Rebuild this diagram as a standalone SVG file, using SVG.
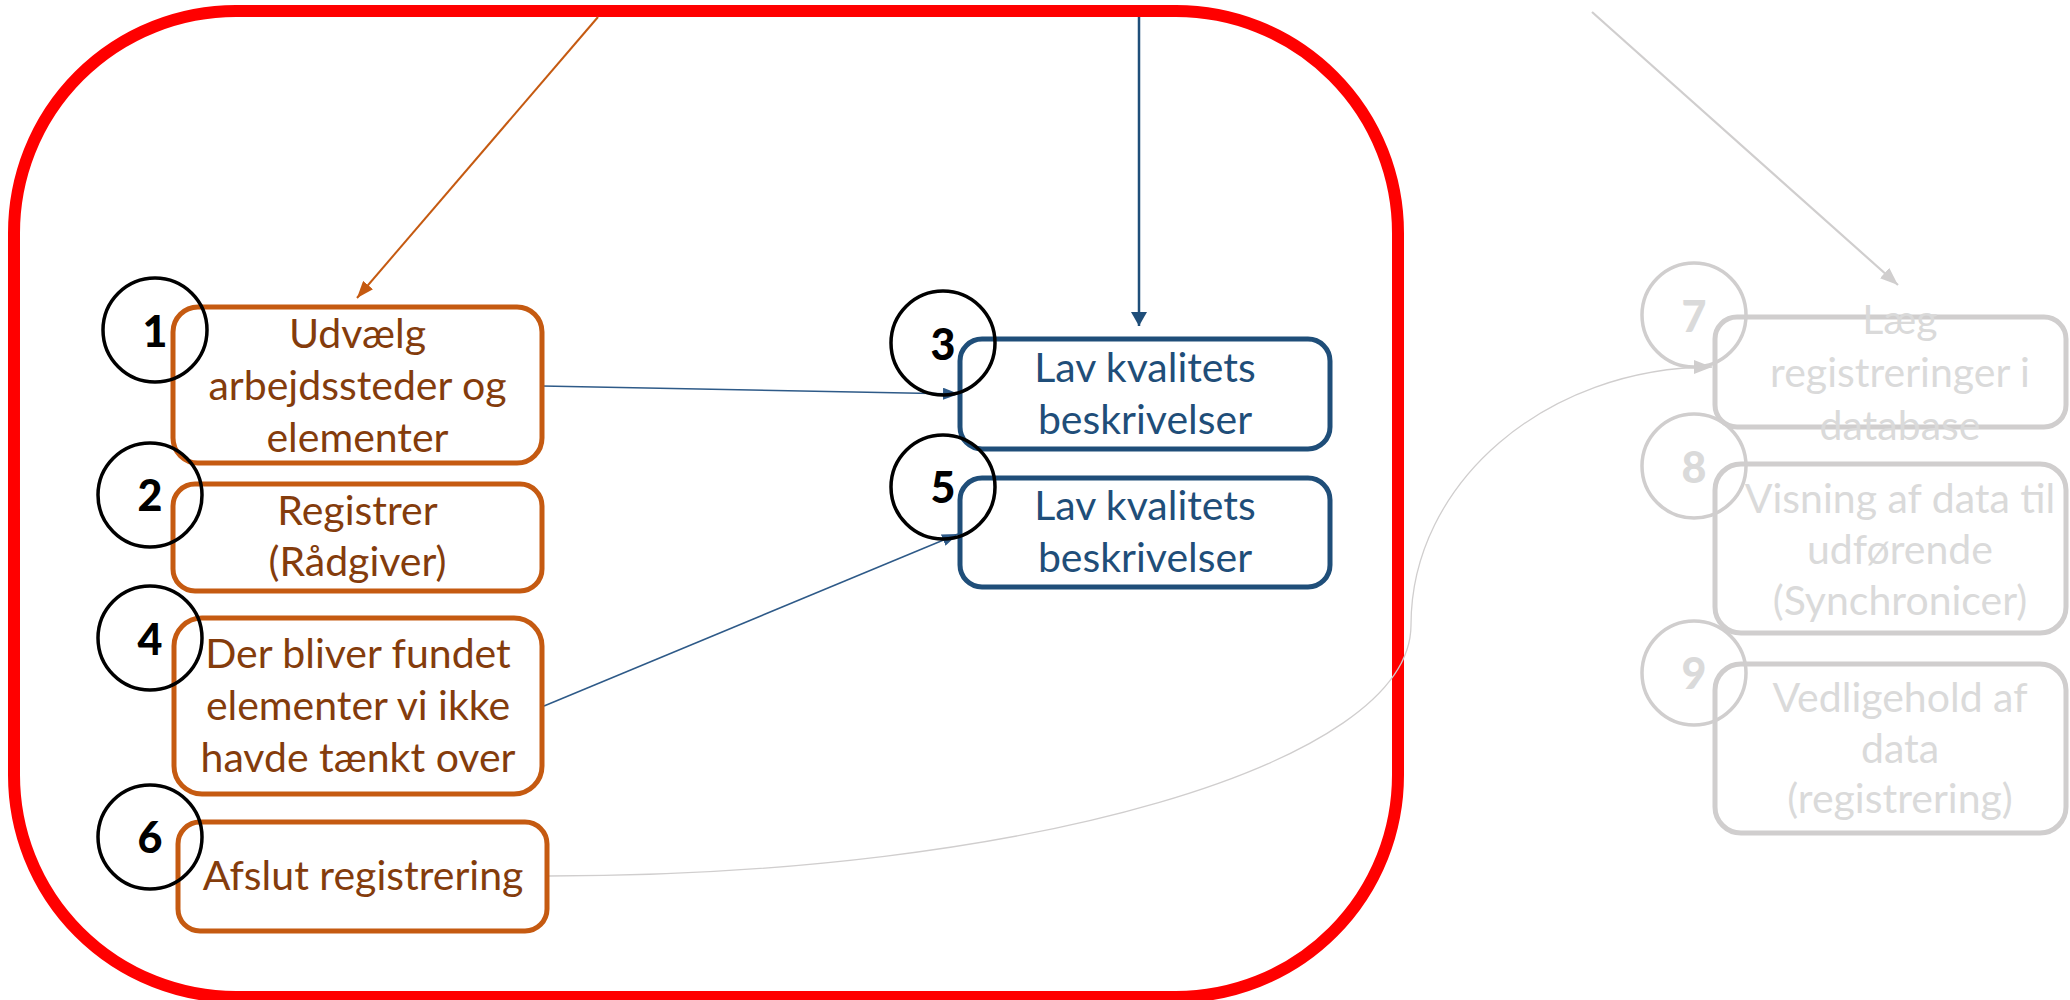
<svg xmlns="http://www.w3.org/2000/svg" width="2070" height="1000" viewBox="0 0 2070 1000">
  <style>
    .t { font-family: Lato, "Open Sans", "Liberation Sans", sans-serif; font-size: 41px; text-anchor: middle; }
    .num { font-family: Lato, "Liberation Sans", sans-serif; font-size: 43px; font-weight: 900; text-anchor: middle; }
    .or { fill: #fff; stroke: #C55A11; stroke-width: 5; }
    .bl { fill: #fff; stroke: #1F4E79; stroke-width: 5; }
    .gr { fill: #fff; stroke: #D0CECE; stroke-width: 5; }
    .ort { fill: #843C0C; }
    .blt { fill: #1F4E79; }
    .grt { fill: #DADADA; }
    .c { fill: none; stroke: #000; stroke-width: 3.5; }
    .cg { fill: none; stroke: #D0CECE; stroke-width: 3.5; }
  </style>
  <defs>
    <marker id="aOr" markerUnits="userSpaceOnUse" markerWidth="18" markerHeight="13" refX="17" refY="6.5" orient="auto" viewBox="0 0 18 13">
      <path d="M0,0 L17,6.5 L0,13 Z" fill="#C55A11"/>
    </marker>
    <marker id="aBl" markerUnits="userSpaceOnUse" markerWidth="15" markerHeight="16" refX="14" refY="8" orient="auto" viewBox="0 0 15 16">
      <path d="M0,0 L14,8 L0,16 Z" fill="#1F4E79"/>
    </marker>
    <marker id="aBl2" markerUnits="userSpaceOnUse" markerWidth="17" markerHeight="12" refX="16" refY="6" orient="auto" viewBox="0 0 17 12">
      <path d="M0,0 L16,6 L0,12 Z" fill="#2E5A88"/>
    </marker>
    <marker id="aGr" markerUnits="userSpaceOnUse" markerWidth="19" markerHeight="14" refX="18" refY="7" orient="auto" viewBox="0 0 19 14">
      <path d="M0,0 L18,7 L0,14 Z" fill="#D0CECE"/>
    </marker>
  </defs>

  <rect id="frame" x="14" y="11" width="1384" height="986" rx="222" ry="222" fill="none" stroke="#FF0000" stroke-width="12"/>

  <g id="connectors" fill="none">
    <line x1="598" y1="17" x2="357" y2="298" stroke="#C55A11" stroke-width="2" marker-end="url(#aOr)"/>
    <line x1="1139" y1="17" x2="1139" y2="326" stroke="#1F4E79" stroke-width="2.5" marker-end="url(#aBl)"/>
    <line x1="542" y1="386" x2="959" y2="394" stroke="#2E5A88" stroke-width="1.5" marker-end="url(#aBl2)"/>
    <line x1="544" y1="706" x2="958" y2="534" stroke="#2E5A88" stroke-width="1.5" marker-end="url(#aBl2)"/>
    <line x1="1592" y1="12" x2="1898" y2="285" stroke="#D0CECE" stroke-width="2.2" marker-end="url(#aGr)"/>
    <path d="M549,876 C1025,876 1411,764 1411,625 C1411,483 1546,367 1712,367" stroke="#D0CECE" stroke-width="1.3" marker-end="url(#aGr)"/>
  </g>

  <g id="node1">
    <rect class="or" x="173" y="307" width="369" height="156" rx="25"/>
    <text class="t ort" x="357.5" y="348">Udvælg</text>
    <text class="t ort" x="357.5" y="400">arbejdssteder og</text>
    <text class="t ort" x="357.5" y="452">elementer</text>
    <circle class="c" cx="155" cy="330" r="52"/>
    <text class="num" x="155" y="347">1</text>
  </g>
  <g id="node2">
    <rect class="or" x="173" y="484" width="369" height="107" rx="22"/>
    <text class="t ort" x="357.5" y="525">Registrer</text>
    <text class="t ort" x="357.5" y="576">(Rådgiver)</text>
    <circle class="c" cx="150" cy="495" r="52"/>
    <text class="num" x="150" y="511">2</text>
  </g>
  <g id="node3">
    <rect class="bl" x="960" y="339" width="370" height="110" rx="22"/>
    <text class="t blt" x="1145" y="382">Lav kvalitets</text>
    <text class="t blt" x="1145" y="434">beskrivelser</text>
    <circle class="c" cx="943" cy="343" r="52"/>
    <text class="num" x="943" y="360">3</text>
  </g>
  <g id="node4">
    <rect class="or" x="174" y="618" width="368" height="176" rx="28"/>
    <text class="t ort" x="358" y="668">Der bliver fundet</text>
    <text class="t ort" x="358" y="720">elementer vi ikke</text>
    <text class="t ort" x="358" y="772">havde tænkt over</text>
    <circle class="c" cx="150" cy="638" r="52"/>
    <text class="num" x="150" y="655">4</text>
  </g>
  <g id="node5">
    <rect class="bl" x="960" y="478" width="370" height="109" rx="22"/>
    <text class="t blt" x="1145" y="520">Lav kvalitets</text>
    <text class="t blt" x="1145" y="572">beskrivelser</text>
    <circle class="c" cx="943" cy="487" r="52"/>
    <text class="num" x="943" y="503">5</text>
  </g>
  <g id="node6">
    <rect class="or" x="178" y="822" width="369" height="109" rx="22"/>
    <text class="t ort" x="363" y="890">Afslut registrering</text>
    <circle class="c" cx="150" cy="837" r="52"/>
    <text class="num" x="150" y="853">6</text>
  </g>
  <g id="node7">
    <rect class="gr" x="1715" y="317" width="351" height="110" rx="22"/>
    <text class="t grt" x="1900" y="334">Læg</text>
    <text class="t grt" x="1900" y="387">registreringer i</text>
    <text class="t grt" x="1900" y="440">database</text>
    <circle class="cg" cx="1694" cy="315" r="52"/>
    <text class="num grt" x="1694" y="332">7</text>
  </g>
  <g id="node8">
    <rect class="gr" x="1715" y="464" width="351" height="169" rx="26"/>
    <text class="t grt" x="1900" y="513">Visning af data til</text>
    <text class="t grt" x="1900" y="564">udførende</text>
    <text class="t grt" x="1900" y="615">(Synchronicer)</text>
    <circle class="cg" cx="1694" cy="466" r="52"/>
    <text class="num grt" x="1694" y="483">8</text>
  </g>
  <g id="node9">
    <rect class="gr" x="1715" y="664" width="351" height="169" rx="26"/>
    <text class="t grt" x="1900" y="712">Vedligehold af</text>
    <text class="t grt" x="1900" y="763">data</text>
    <text class="t grt" x="1900" y="813">(registrering)</text>
    <circle class="cg" cx="1694" cy="673" r="52"/>
    <text class="num grt" x="1694" y="689">9</text>
  </g>
</svg>
